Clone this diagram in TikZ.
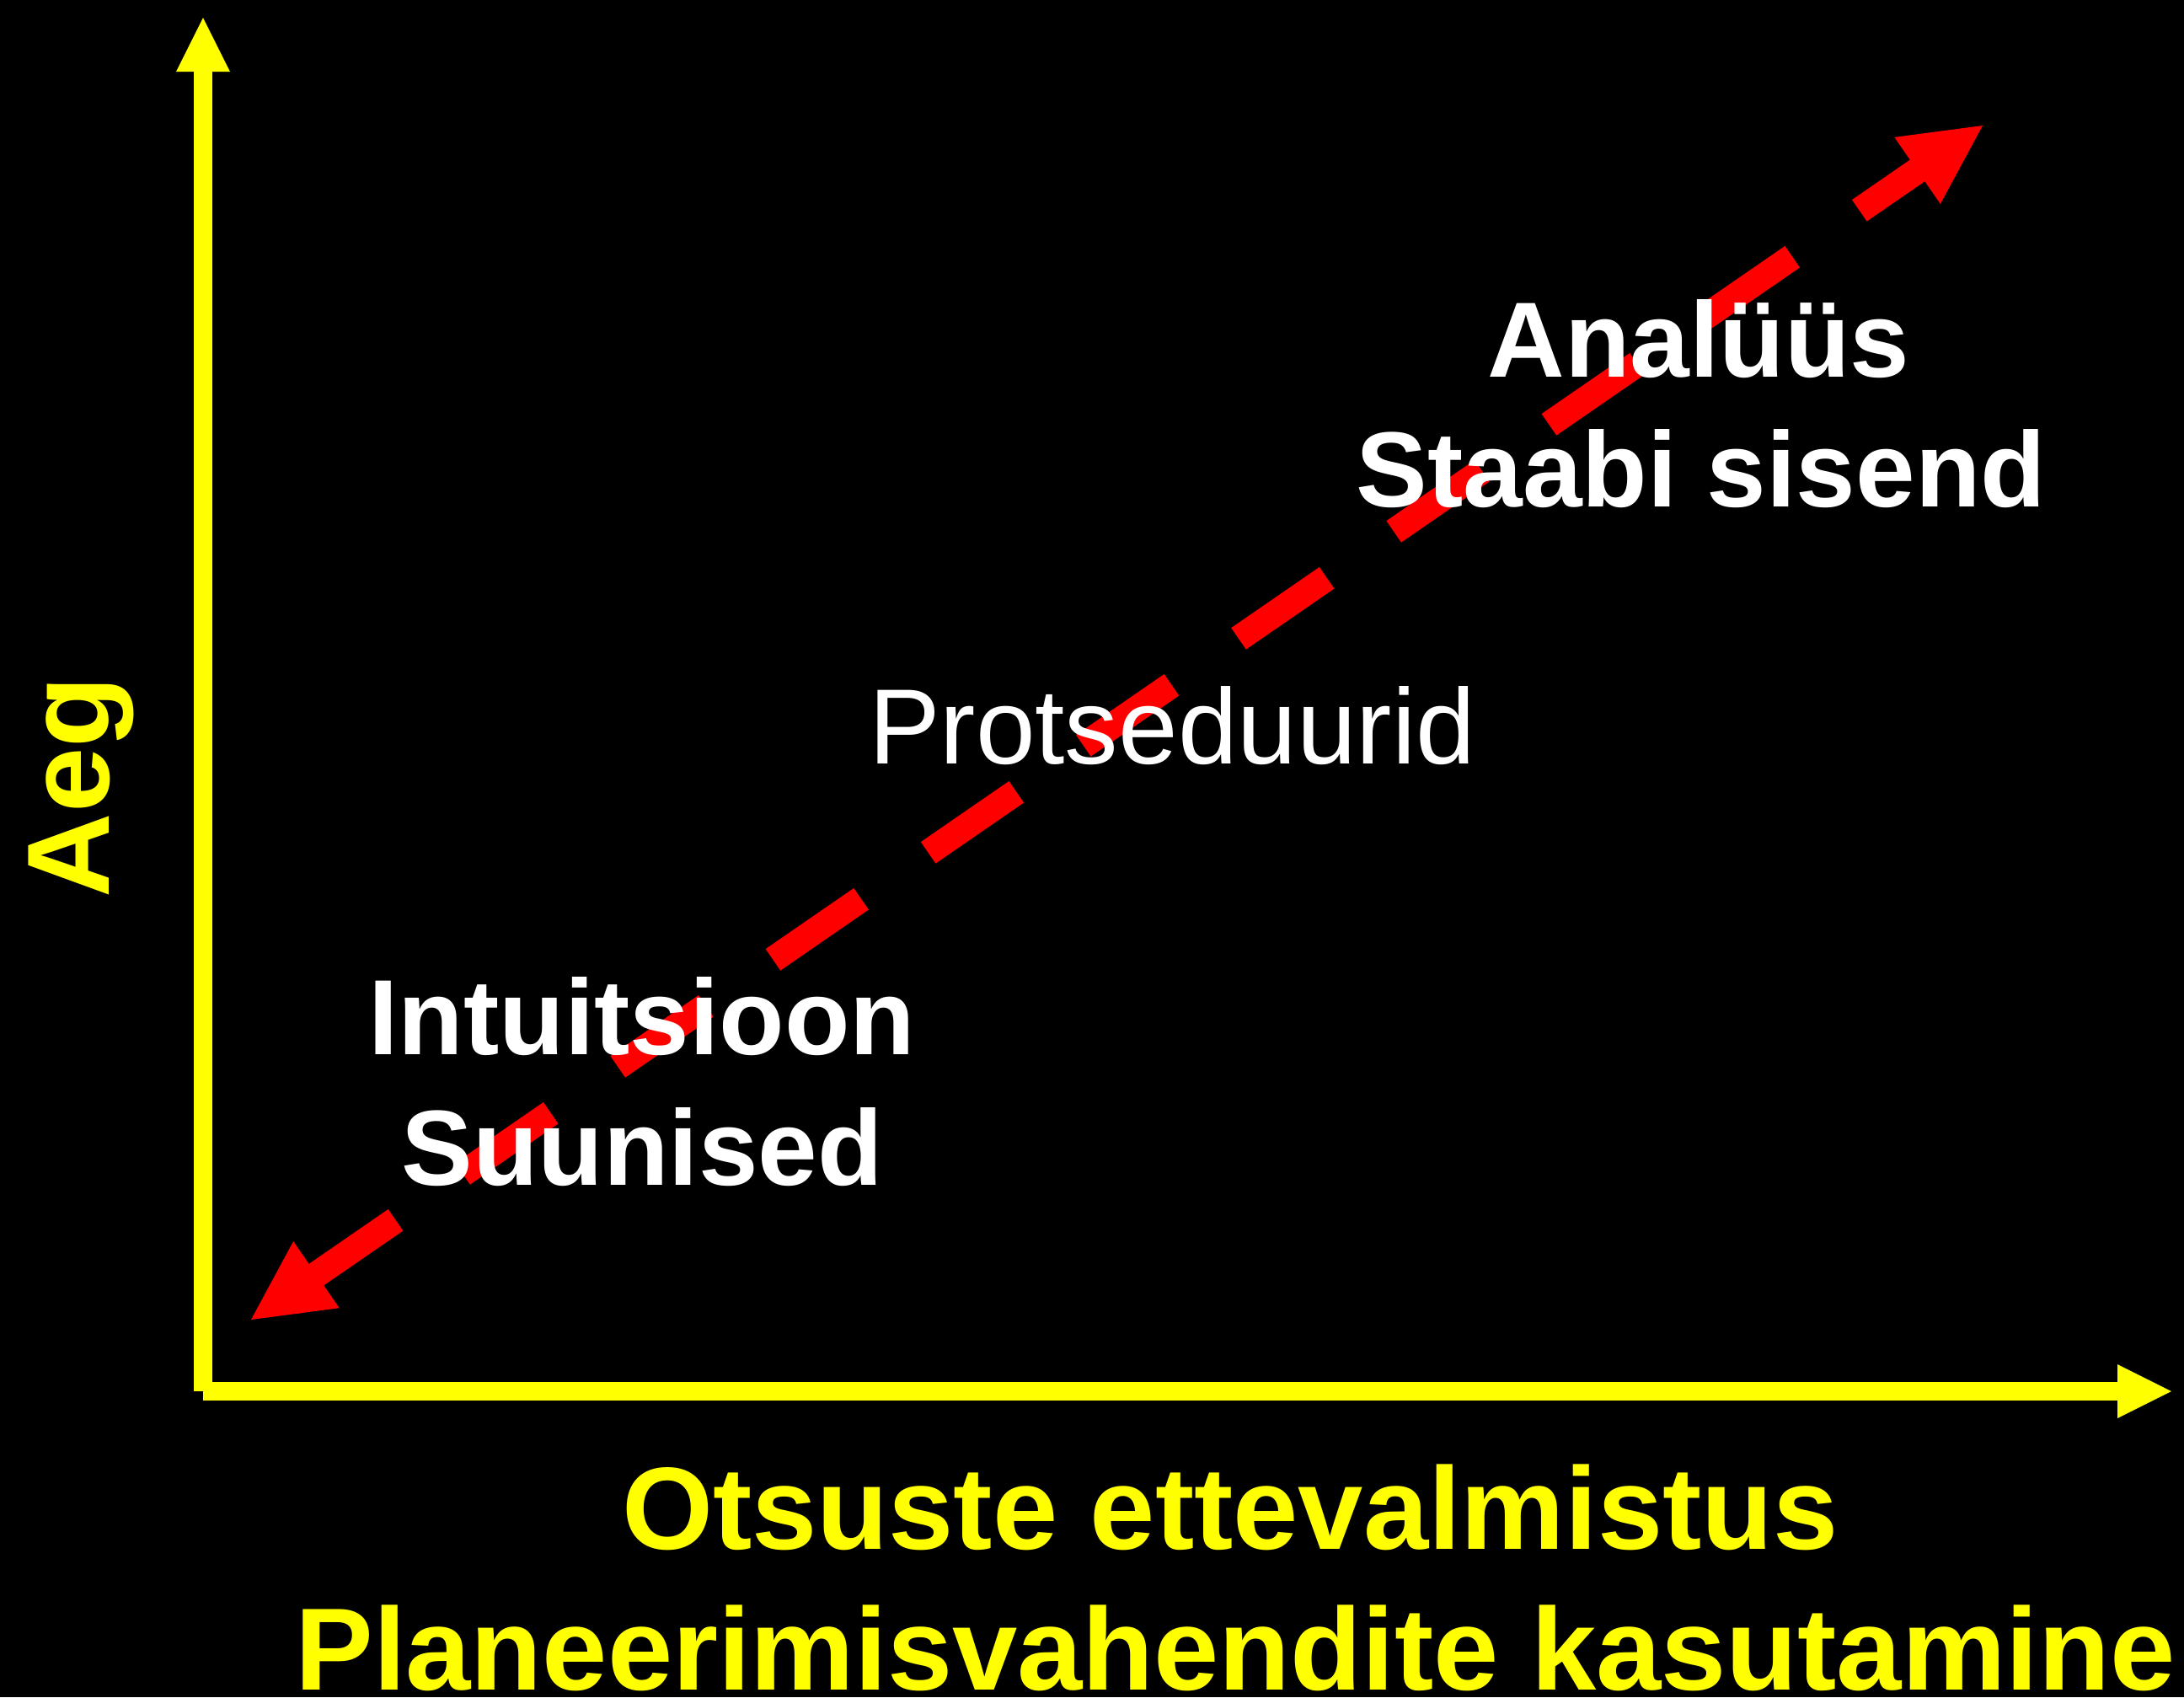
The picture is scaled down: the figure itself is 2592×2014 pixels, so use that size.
\documentclass[tikz,border=0pt]{standalone}
\usepackage{fontspec}
\setmainfont{Liberation Sans}
\usetikzlibrary{calc}
\definecolor{axisyellow}{RGB}{255,255,0}
\definecolor{arrowred}{RGB}{255,0,0}
\begin{document}
\begin{tikzpicture}[x=0.01cm,y=-0.01cm,
  axisline/.style={draw=axisyellow,line width=0.22cm},
  axishead/.style={fill=axisyellow},
  redline/.style={draw=arrowred,line width=0.31cm,dash pattern=on 1.27cm off 0.966cm,dash phase=1.424cm},
  redhead/.style={fill=arrowred},
  wlbl/.style={inner sep=0pt,anchor=base,text=white,font=\bfseries\fontsize{36.1pt}{43pt}\selectfont},
  wlblreg/.style={inner sep=0pt,anchor=base,text=white,font=\fontsize{36.1pt}{43pt}\selectfont},
  ylbl/.style={inner sep=0pt,anchor=base,text=axisyellow,font=\bfseries\fontsize{39.5pt}{47pt}\selectfont}]
\useasboundingbox (0,0) rectangle (2592,2014);
\fill[black] (0,0) rectangle (2592,2014);
% axes
\coordinate (O) at (241,1651);
\coordinate (ytip) at (241,21);
\coordinate (xtip) at (2577,1651);
\draw[axisline] (O) -- ($(ytip)+(0,62)$);
\fill[axishead] (ytip) -- ($(ytip)+(-32,64)$) -- ($(ytip)+(32,64)$) -- cycle;
\draw[axisline] (O) -- ($(xtip)+(-62,0)$);
\fill[axishead] (xtip) -- ($(xtip)+(-64,-32)$) -- ($(xtip)+(-64,32)$) -- cycle;
% red double arrow
\coordinate (lo) at (298,1566);
\coordinate (hi) at (2353,149);
\draw[redline] (lo) -- (hi);
\coordinate (lobase) at ($(lo)!0.94cm!(hi)$);
\coordinate (hibase) at ($(hi)!0.94cm!(lo)$);
\fill[redhead] (lo) -- ($(lobase)!0.48cm!90:(hi)$) -- ($(lobase)!0.48cm!-90:(hi)$) -- cycle;
\fill[redhead] (hi) -- ($(hibase)!0.48cm!90:(lo)$) -- ($(hibase)!0.48cm!-90:(lo)$) -- cycle;
% labels
\node[wlbl] (analyys) at (2016,447) {Analüüs};
\node[wlbl] (staap) at (2019,601) {Staabi sisend};
\node[wlblreg] (prots) at (1391,906) {Protseduurid};
\node[wlbl] (intu) at (762,1251) {Intuitsioon};
\node[wlbl] (suun) at (762,1406) {Suunised};
\node[ylbl,rotate=90] (aeg) at (129,934) {Aeg};
\node[ylbl] (otsus) at (1460,1838) {Otsuste ettevalmistus};
\node[ylbl] (plan) at (1466,2005) {Planeerimisvahendite kasutamine};
\end{tikzpicture}
\end{document}
